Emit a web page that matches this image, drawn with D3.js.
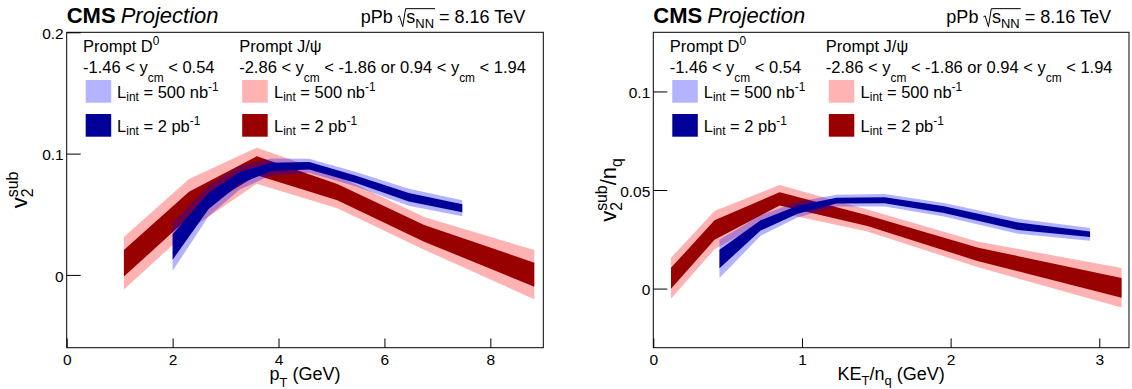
<!DOCTYPE html>
<html><head><meta charset="utf-8">
<script src="https://cdn.jsdelivr.net/npm/d3@7"></script>
<style>body{margin:0;background:#fff}svg{display:block}text{font-family:"Liberation Sans",Arial,Helvetica,sans-serif;fill:#000}</style>
</head><body><svg id="c" width="1132" height="389"></svg>
<script>
// ---- data ----
const leftXTicks = [0, 2, 4, 6, 8];
const leftYTicks = [0, 0.1, 0.2];
const rightXTicks = [0, 1, 2, 3];
const rightYTicks = [0, 0.05, 0.1];

// Left panel: v2sub vs pT
const jpsiPt = [1.08, 2.31, 3.59, 5.11, 6.75, 8.83];
const jpsiV2 = [0.0096, 0.058, 0.090, 0.0683, 0.0343, 0.0002];
const jpsiErr2pb = [0.011, 0.0105, 0.0078, 0.0067, 0.0069, 0.0099];
const jpsiErr500nb = [0.0217, 0.021, 0.0149, 0.0134, 0.0135, 0.0203];

const d0Pt = [2.0, 2.68, 3.27, 3.86, 4.58, 5.45, 6.46, 7.47];
const d0V2 = [0.023, 0.061, 0.080, 0.089, 0.090, 0.079, 0.064, 0.055];
const d0Err2pb = [0.0105, 0.0066, 0.0048, 0.0035, 0.003, 0.003, 0.0035, 0.0033];
const d0Err500nb = [0.0196, 0.0127, 0.0095, 0.007, 0.0058, 0.006, 0.007, 0.0066];

// Right panel: v2sub/nq vs KET/nq
const jpsiKet = [0.119, 0.412, 0.85, 1.44, 2.18, 3.15];
const jpsiV2nq = [0.0052, 0.0297, 0.0455, 0.0345, 0.0174, 0.0004];
const jpsiErr2pbNq = [0.0053, 0.0049, 0.0034, 0.0027, 0.0034, 0.005];
const jpsiErr500nbNq = [0.0104, 0.0097, 0.007, 0.0056, 0.0065, 0.010];

const d0Ket = [0.445, 0.722, 0.97, 1.232, 1.557, 1.955, 2.455, 2.938];
const d0V2nq = [0.015, 0.032, 0.040, 0.0446, 0.0448, 0.040, 0.0316, 0.0275];
const d0Err2pbNq = [0.0047, 0.0026, 0.002, 0.0015, 0.0015, 0.0017, 0.0019, 0.0014];
const d0Err500nbNq = [0.0097, 0.0052, 0.004, 0.003, 0.0032, 0.0034, 0.0038, 0.0032];

// ---- styles ----
const C = {lightRed:"rgba(255,0,0,0.3)", darkRed:"#990000", lightBlue:"rgba(0,0,255,0.3)", darkBlue:"#000099",
           lightRedBox:"#ffb3b3", lightBlueBox:"#b3b3ff"};
const FT = 32.3, FB = 347.7;

const svg = d3.select("#c");

// rich text helper: parts [{t, s(scale), dy, w(weight), i(italic), same(start at prev x), rad, radEnd}]
function rich(g, x, y, parts, o) {
  const fs = o.size;
  const outer = g.append("g").attr("transform", `translate(${x},${y})` + (o.rotate ? ` rotate(${o.rotate})` : ""));
  const inner = outer.append("g");
  let cx = 0, prevStart = 0, maxEnd = 0, radStart = null;
  parts.forEach(p => {
    if (p.rad) {
      inner.append("path").attr("fill","none").attr("stroke","#000").attr("stroke-width",1)
        .attr("d", `M${cx},${-0.32*fs} L${cx+0.1*fs},${-0.38*fs} L${cx+0.28*fs},${0.22*fs} L${cx+0.44*fs},${-0.78*fs}`);
      radStart = cx + 0.44*fs; cx += 0.48*fs; maxEnd = Math.max(maxEnd, cx); return;
    }
    if (p.radEnd) {
      inner.append("line").attr("stroke","#000").attr("stroke-width",1)
        .attr("x1", radStart).attr("x2", cx + 1).attr("y1", -0.78*fs).attr("y2", -0.78*fs);
      return;
    }
    const size = fs * (p.s || 1);
    const sx = p.same ? prevStart : cx;
    const t = inner.append("text").attr("x", sx).attr("y", (p.dy || 0) * fs)
      .attr("font-size", size).text(p.t);
    if (p.w) t.attr("font-weight", p.w);
    if (p.i) t.attr("font-style", "italic");
    t.attr("xml:space","preserve").style("white-space","pre");
    const len = t.node().getComputedTextLength();
    prevStart = sx;
    cx = Math.max(cx, sx + len);
    maxEnd = Math.max(maxEnd, cx);
  });
  const a = o.anchor === "end" ? 1 : o.anchor === "middle" ? 0.5 : 0;
  inner.attr("transform", `translate(${-a * maxEnd},0)`);
  return outer;
}
const SUB = 0.72;

const panels = [
  {fx0: 66.7, fx1: 543.3, xd: [0, 9], yd: [-0.06, 0.2], xt: leftXTicks, yt: leftYTicks,
   j: [jpsiPt, jpsiV2, jpsiErr2pb, jpsiErr500nb], d: [d0Pt, d0V2, d0Err2pb, d0Err500nb],
   xTitle: [{t:"p"},{t:"T", s:SUB, dy:0.42},{t:" (GeV)"}],
   yTitle: [{t:"v"},{t:"2", s:SUB, dy:0.25},{t:"sub", s:SUB, dy:-0.42, same:true}], yTitleX: 27},
  {fx0: 653.3, fx1: 1129, xd: [0, 3.2], yd: [-0.03, 0.13], xt: rightXTicks, yt: rightYTicks,
   j: [jpsiKet, jpsiV2nq, jpsiErr2pbNq, jpsiErr500nbNq], d: [d0Ket, d0V2nq, d0Err2pbNq, d0Err500nbNq],
   xTitle: [{t:"KE"},{t:"T", s:SUB, dy:0.3},{t:"/n"},{t:"q", s:SUB, dy:0.3},{t:" (GeV)"}],
   yTitle: [{t:"v"},{t:"2", s:SUB, dy:0.25},{t:"sub", s:SUB, dy:-0.42, same:true},{t:"/n"},{t:"q", s:SUB, dy:0.25}], yTitleX: 616}
];

panels.forEach(P => {
  const g = svg.append("g");
  const x = d3.scaleLinear().domain(P.xd).range([P.fx0, P.fx1]);
  const y = d3.scaleLinear().domain(P.yd).range([FB, FT]);

  function band(xs, vs, es, fill) {
    const data = xs.map((d, i) => ({x: d, v: vs[i], e: es[i]}));
    g.append("path").datum(data).attr("fill", fill)
      .attr("d", d3.area().x(d => x(d.x)).y0(d => y(d.v - d.e)).y1(d => y(d.v + d.e)));
  }
  band(P.j[0], P.j[1], P.j[3], C.lightRed);
  band(P.j[0], P.j[1], P.j[2], C.darkRed);
  band(P.d[0], P.d[1], P.d[3], C.lightBlue);
  band(P.d[0], P.d[1], P.d[2], C.darkBlue);

  // axes
  const fmt = d => d === 0 ? "0" : d3.format("~g")(d);
  const ax = g.append("g").attr("transform", `translate(0,${FB})`)
    .call(d3.axisBottom(x).tickValues(P.xt).tickSize(-9.3).tickPadding(6.5).tickFormat(fmt));
  const ay = g.append("g").attr("transform", `translate(${P.fx0},0)`)
    .call(d3.axisLeft(y).tickValues(P.yt).tickSize(-14).tickPadding(3).tickFormat(fmt));
  [ax, ay].forEach(a => {
    a.select(".domain").remove();
    a.selectAll("line").attr("stroke", "#000");
    a.selectAll("text").attr("font-size", 15.5).attr("font-family", null).attr("fill", "#000");
  });
  ay.selectAll("text").attr("dy", "0.4em");

  g.append("rect").attr("x", P.fx0).attr("y", FT).attr("width", P.fx1 - P.fx0).attr("height", FB - FT)
    .attr("fill", "none").attr("stroke", "#000").attr("stroke-width", 1);

  // titles
  rich(g, (P.fx0 + P.fx1) / 2, 379.5, P.xTitle, {size: 18, anchor: "middle"});
  rich(g, P.yTitleX, (FT + FB) / 2, P.yTitle, {size: 22, anchor: "middle", rotate: -90});

  // header
  rich(g, P.fx0, 22.7, [{t:"CMS", w:"bold"}], {size: 22});
  rich(g, P.fx0 + 54, 22.7, [{t:"Projection", i:true}], {size: 22});
  rich(g, P.fx1 - 18, 22.7, [{t:"pPb "},{rad:true},{t:"s"},{t:"NN", s:SUB, dy:0.3},{radEnd:true},{t:" = 8.16 TeV"}], {size: 18, anchor: "end"});

  // legend
  const fs = 16.5, L = P.fx0;
  rich(g, L + 16.4, 52.3, [{t:"Prompt D"},{t:"0", s:SUB, dy:-0.44}], {size: fs});
  rich(g, L + 172.5, 52.3, [{t:"Prompt J/ψ"}], {size: fs});
  rich(g, L + 16.4, 73.3, [{t:"-1.46 < y"},{t:"cm", s:SUB, dy:0.5},{t:" < 0.54"}], {size: fs});
  rich(g, L + 172.5, 73.3, [{t:"-2.86 < y"},{t:"cm", s:SUB, dy:0.5},{t:" < -1.86 or 0.94 < y"},{t:"cm", s:SUB, dy:0.5},{t:" < 1.94"}], {size: fs});
  const rows = [
    {y: 80, colB: C.lightBlueBox, colR: C.lightRedBox, lab: [{t:"L"},{t:"int", s:SUB, dy:0.22},{t:" = 500 nb"},{t:"-1", s:SUB, dy:-0.38}]},
    {y: 114, colB: C.darkBlue, colR: C.darkRed, lab: [{t:"L"},{t:"int", s:SUB, dy:0.22},{t:" = 2 pb"},{t:"-1", s:SUB, dy:-0.38}]}
  ];
  rows.forEach(r => {
    g.append("rect").attr("x", L + 19).attr("y", r.y).attr("width", 25.5).attr("height", 22.7).attr("fill", r.colB);
    g.append("rect").attr("x", L + 175.5).attr("y", r.y).attr("width", 25.5).attr("height", 22.7).attr("fill", r.colR);
    rich(g, L + 50.4, r.y + 17.5, r.lab, {size: fs});
    rich(g, L + 207.3, r.y + 17.5, r.lab, {size: fs});
  });
});
</script></body></html>
